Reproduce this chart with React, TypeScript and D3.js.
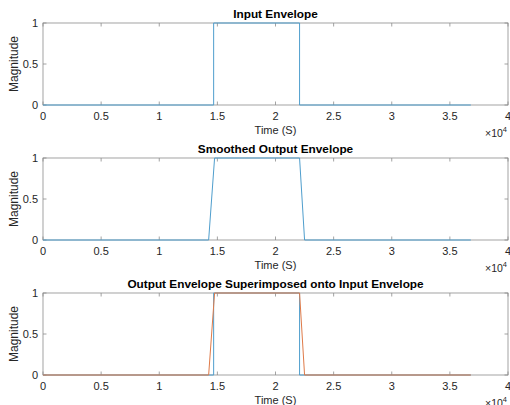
import React from 'react';
import * as d3 from 'd3';

// time in seconds, magnitude 0..1
const inputTime = [0, 14680, 14680, 22070, 22070, 36800];
const inputMag = [0, 0, 1, 1, 0, 0];
const outputTime = [0, 14250, 14760, 22070, 22500, 36800];
const outputMag = [0, 0, 1, 1, 0, 0];

const xTicks = [0, 5000, 10000, 15000, 20000, 25000, 30000, 35000, 40000];
const yTicks = [0, 0.5, 1];
const titles = [
  'Input Envelope',
  'Smoothed Output Envelope',
  'Output Envelope Superimposed onto Input Envelope',
];

const blue = '#4f9ecd';
const orange = '#df7a48';

const width = 510,
  height = 405;
const left = 43,
  right = 508,
  axH = 82;
const tops = [23, 158, 293];
const font = '"Liberation Sans", Arial, Helvetica, sans-serif';

type Series = { t: number[]; v: number[]; colour: string };

const Subplot = ({ top, title, series }: { top: number; title: string; series: Series[] }) => {
  const x = d3.scaleLinear().domain([0, 40000]).range([left, right]);
  const y = d3.scaleLinear().domain([0, 1]).range([top + axH, top]);
  const tickLen = 3.5;
  const box = '#8c8c8c';

  return (
    <g>
      {/* box */}
      <rect x={left} y={top} width={right - left} height={axH} fill="white" stroke={box} strokeWidth={0.8} />
      {xTicks.map((t) => (
        <g key={'x' + t}>
          <line x1={x(t)} x2={x(t)} y1={top + axH} y2={top + axH - tickLen} stroke={box} strokeWidth={0.8} />
          <line x1={x(t)} x2={x(t)} y1={top} y2={top + tickLen} stroke={box} strokeWidth={0.8} />
          <text
            x={x(t)}
            y={top + axH + 15}
            textAnchor="middle"
            style={{ fontSize: '11px', fill: '#262626', fontFamily: font }}
          >
            {d3.format('~g')(t / 10000)}
          </text>
        </g>
      ))}
      {yTicks.map((t) => (
        <g key={'y' + t}>
          <line x1={left} x2={left + tickLen} y1={y(t)} y2={y(t)} stroke={box} strokeWidth={0.8} />
          <line x1={right} x2={right - tickLen} y1={y(t)} y2={y(t)} stroke={box} strokeWidth={0.8} />
          <text
            x={left - 5}
            y={y(t) + 4}
            textAnchor="end"
            style={{ fontSize: '11px', fill: '#262626', fontFamily: font }}
          >
            {t}
          </text>
        </g>
      ))}
      {series.map((s, i) => {
        const path = d3
          .line<number>()
          .x((_, j) => x(s.t[j]))
          .y((d) => y(d))(s.v);
        return <path key={i} d={path || ''} fill="none" stroke={s.colour} strokeWidth={1} />;
      })}
      <text
        x={(left + right) / 2}
        y={top - 5}
        textAnchor="middle"
        style={{ fontSize: '11.8px', fontWeight: 'bold', fill: '#000', fontFamily: font }}
      >
        {title}
      </text>
      <text
        x={(left + right) / 2}
        y={top + axH + 29}
        textAnchor="middle"
        style={{ fontSize: '11px', fill: '#262626', fontFamily: font }}
      >
        Time (S)
      </text>
      <text
        x={right - 1}
        y={top + axH + 32}
        textAnchor="end"
        style={{ fontSize: '10.5px', fill: '#262626', fontFamily: font }}
      >
        ×10
        <tspan dy={-5} style={{ fontSize: '7.5px' }}>
          4
        </tspan>
      </text>
      <text
        transform={`translate(18,${top + axH / 2}) rotate(-90)`}
        textAnchor="middle"
        style={{ fontSize: '12px', fill: '#262626', fontFamily: font }}
      >
        Magnitude
      </text>
    </g>
  );
};

const App = () => {
  const inp: Series = { t: inputTime, v: inputMag, colour: blue };
  const out: Series = { t: outputTime, v: outputMag, colour: blue };
  const outOrange: Series = { t: outputTime, v: outputMag, colour: orange };
  return (
    <svg width={width} height={height} style={{ position: 'fixed', left: 0, top: 0, background: 'white' }}>
      <Subplot top={tops[0]} title={titles[0]} series={[inp]} />
      <Subplot top={tops[1]} title={titles[1]} series={[out]} />
      <Subplot top={tops[2]} title={titles[2]} series={[inp, outOrange]} />
    </svg>
  );
};

export default App;
